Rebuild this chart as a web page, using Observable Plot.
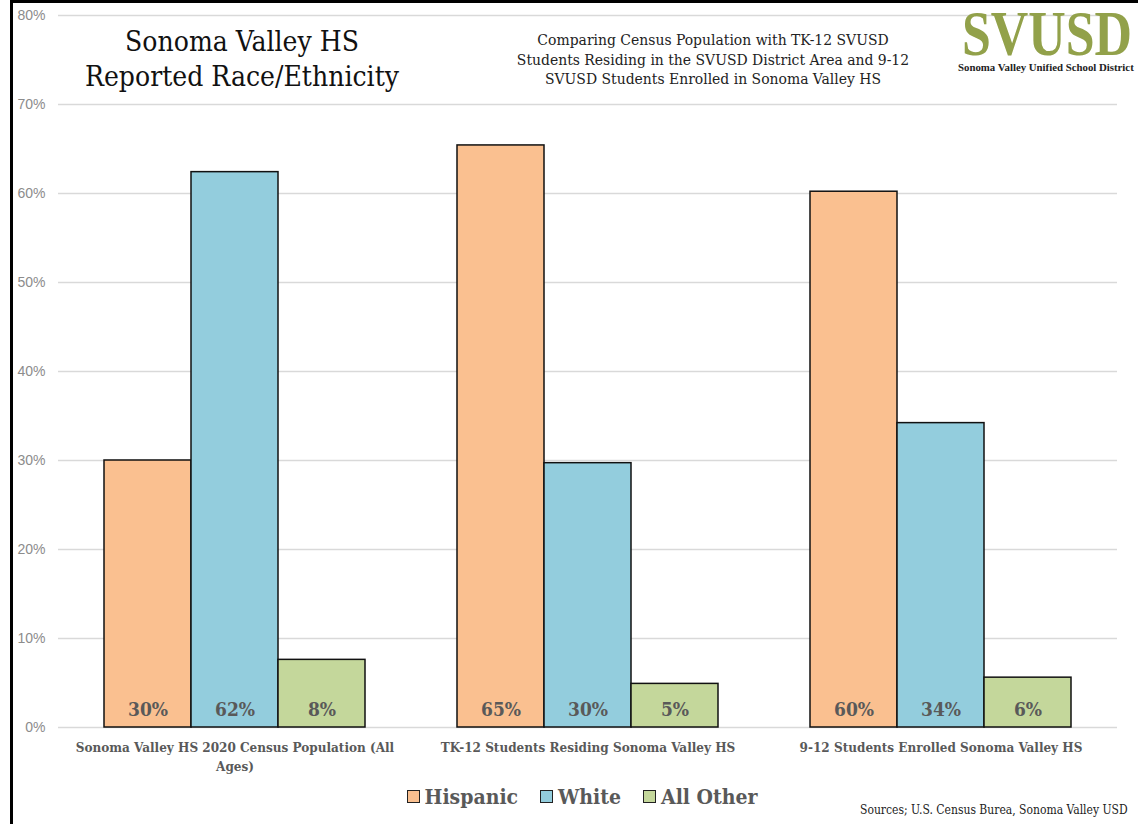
<!DOCTYPE html>
<html>
<head>
<meta charset="utf-8">
<script src="https://cdn.jsdelivr.net/npm/d3@7"></script>
<script src="https://cdn.jsdelivr.net/npm/@observablehq/plot@0.6"></script>
<style>
  html, body { margin: 0; padding: 0; background: #fff; overflow: hidden; }
  #wrap { position: relative; width: 1138px; height: 824px; overflow: hidden; background: #fff; }
  .serif { font-family: "DejaVu Serif Condensed", "DejaVu Serif", serif; font-stretch: condensed; }
  .abs { position: absolute; }
  #frameL { left: 10px; top: 0; width: 3px; height: 824px; background: #000; }
  #frameT { left: 10px; top: 0; width: 1128px; height: 3px; background: #000; }
  #title { left: 52px; top: 24px; width: 380px; text-align: center; font-size: 28px; line-height: 35px; color: #111; }
  #subtitle { left: 462px; top: 31px; width: 502px; text-align: center; font-size: 15.5px; line-height: 19.5px; color: #222; }
  #logo { left: 962px; top: 0px; overflow: visible; }
  #logosub { left: 958px; top: 61px; font-size: 10.8px; line-height: 13px; font-weight: bold; color: #222; font-family: "Liberation Serif", serif; white-space: nowrap; }
  #legend { left: 0; top: 784px; width: 1164px; display: flex; justify-content: center; gap: 22px; font-size: 21px; font-weight: bold; color: #595959; }
  .item { display: flex; align-items: center; gap: 5px; }
  .sw { width: 11px; height: 11px; border: 1.5px solid #222; }
  #sources { left: 860px; top: 803px; font-size: 12px; color: #222; white-space: nowrap; }
  .chart { left: 0; top: 0; }
</style>
</head>
<body>
<div id="wrap">
  <div id="bg" class="abs chart"></div>
  <div id="fg" class="abs chart"></div>
  <div id="frameL" class="abs"></div>
  <div id="frameT" class="abs"></div>
  <div id="title" class="abs serif">Sonoma Valley HS<br>Reported Race/Ethnicity</div>
  <div id="subtitle" class="abs serif">Comparing Census Population with TK-12 SVUSD<br>Students Residing in the SVUSD District Area and 9-12<br>SVUSD Students Enrolled in Sonoma Valley HS</div>
  <svg id="logo" class="abs" width="174" height="58"><text x="0" y="55" font-family="Liberation Serif, serif" font-weight="bold" font-size="64" fill="#92a14a" textLength="170" lengthAdjust="spacingAndGlyphs">SVUSD</text></svg>
  <div id="logosub" class="abs">Sonoma Valley Unified School District</div>
  <div id="legend" class="abs serif"></div>
  <div id="sources" class="abs serif">Sources; U.S. Census Burea, Sonoma Valley USD</div>
</div>
<script>
// ---- data ----
const groups = [
  "Sonoma Valley HS 2020 Census Population (All Ages)",
  "TK-12 Students Residing Sonoma Valley HS",
  "9-12 Students Enrolled Sonoma Valley HS"
];
const groupLabels = [
  "Sonoma Valley HS 2020 Census Population (All\nAges)",
  "TK-12 Students Residing Sonoma Valley HS",
  "9-12 Students Enrolled Sonoma Valley HS"
];
const series = ["Hispanic", "White", "All Other"];
const hispanic = [0.300, 0.654, 0.602];
const white = [0.624, 0.297, 0.342];
const allOther = [0.076, 0.049, 0.056];
const colors = ["#FAC090", "#93CDDD", "#C4D79B"];
const yTicks = [0, 0.1, 0.2, 0.3, 0.4, 0.5, 0.6, 0.7, 0.8];

const valuesBySeries = [hispanic, white, allOther];
const data = [];
groups.forEach((g, gi) => {
  series.forEach((s, si) => {
    data.push({group: g, series: s, value: valuesBySeries[si][gi]});
  });
});

const serif = '"DejaVu Serif Condensed", "DejaVu Serif", serif';
const dims = {width: 1138, height: 824, marginLeft: 58, marginRight: 21, marginTop: 15, marginBottom: 97};

// background: gridlines + y axis spanning the full frame
const bg = Plot.plot({
  ...dims,
  style: {fontFamily: serif, background: "transparent", overflow: "visible"},
  x: {axis: null},
  y: {domain: [0, 0.8], label: null},
  marks: [
    Plot.gridY(yTicks, {stroke: "#d9d9d9", strokeOpacity: 1, strokeWidth: 1.5}),
    Plot.axisY(yTicks, {tickSize: 0, tickPadding: 13, tickFormat: d3.format(".0%"), fontSize: 14, fill: "#8c8c8c", fontFamily: '"Liberation Sans", Arial, sans-serif', label: null})
  ]
});
document.getElementById("bg").appendChild(bg);

// foreground: grouped bars
const fg = Plot.plot({
  ...dims,
  style: {fontFamily: serif, background: "transparent", overflow: "visible"},
  fx: {domain: groups, paddingInner: 0.255, paddingOuter: 0.1275, label: null},
  x: {domain: series, padding: 0, axis: null},
  y: {domain: [0, 0.8], axis: null},
  color: {domain: series, range: colors},
  marks: [
    Plot.barY(data, {fx: "group", x: "series", y: "value", fill: "series", stroke: "#111", strokeWidth: 1.5}),
    Plot.text(data, {fx: "group", x: "series", y: 0, dy: -18, text: d => d3.format(".0%")(d.value), fontSize: 19, fontWeight: "bold", fill: "#595959"}),
    Plot.axisFx({anchor: "bottom", tickSize: 0, tickPadding: 11, label: null, tickFormat: d => groupLabels[groups.indexOf(d)], fontSize: 13.4, fontWeight: "bold", fill: "#595959", lineHeight: 1.4})
  ]
});
document.getElementById("fg").appendChild(fg);

// legend
const legend = document.getElementById("legend");
series.forEach((s, i) => {
  const item = document.createElement("div");
  item.className = "item";
  const sw = document.createElement("div");
  sw.className = "sw";
  sw.style.background = colors[i];
  const t = document.createElement("span");
  t.textContent = s;
  item.appendChild(sw);
  item.appendChild(t);
  legend.appendChild(item);
});
</script>
</body>
</html>
